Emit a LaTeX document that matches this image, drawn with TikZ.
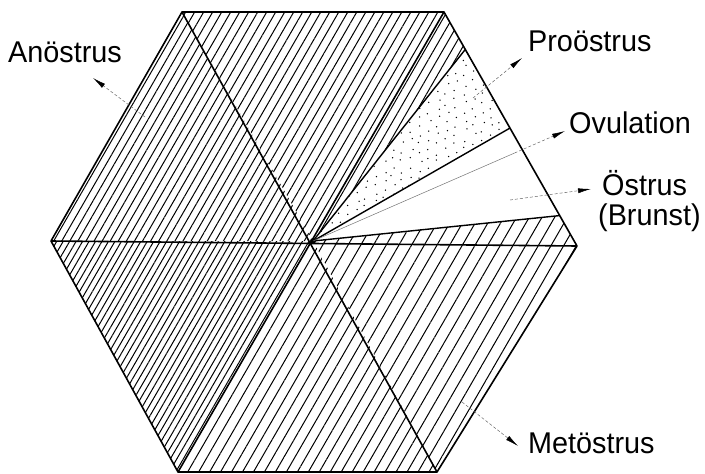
\documentclass[tikz,border=0pt]{standalone}
\usepackage{fontspec}
\setmainfont{Liberation Sans}
\usetikzlibrary{patterns.meta,arrows.meta,calc}
\begin{document}
\begin{tikzpicture}[x=1pt,y=-1pt,
  edge/.style={line width=1.6pt,line join=round},
  hatch/.style={pattern={Lines[angle=60,distance=#1,line width=1pt]}},
  lbl/.style={font=\fontsize{30}{34}\selectfont,xscale=0.96,anchor=base west,inner sep=0pt},
  ptr/.style={black!60,line width=0.5pt,dash pattern=on 3pt off 2pt,-{Latex[black,length=13pt,width=5pt]}},
  thinray/.style={black!55,line width=0.5pt},
]
\useasboundingbox (0,0) rectangle (705,474);
% hexagon
\coordinate (C) at (313,241);
\coordinate (L) at (51,241);
\coordinate (TL) at (182,12);
\coordinate (TR) at (444,12);
\coordinate (R) at (577,246);
\coordinate (BR) at (437,472);
\coordinate (BL) at (178,472);
\coordinate (P1) at ($(TR)!0.16!(R)$);
\coordinate (P2) at ($(TR)!0.496!(R)$);
\coordinate (P3) at ($(TR)!0.87!(R)$);
% hatched regions
\path[hatch=7pt] (C) -- (L) -- (TL) -- cycle;
\path[hatch=7.8pt] (C) -- (TL) -- (TR) -- (P1) -- cycle;
\path[hatch=11pt] (C) -- (P3) -- (R) -- cycle;
\path[hatch=11pt] (C) -- (R) -- (BR) -- cycle;
\path[hatch=9.5pt] (C) -- (BR) -- (BL) -- cycle;
\path[hatch=5.6pt] (C) -- (BL) -- (L) -- cycle;
% dotted sector
\begin{scope}
  \clip (C) -- (P1) -- (P2) -- cycle;
  \pgfmathsetseed{11}
  \foreach \i in {0,...,23}{
    \foreach \j in {0,...,22}{
      \pgfmathsetmacro\dx{312+\i*9+2.2*rand}
      \pgfmathsetmacro\dy{45+\j*9+2.2*rand+mod(\i,2)*4.5}
      \fill (\dx,\dy) circle (0.75pt);
    }
  }
\end{scope}
% lines
\draw[edge] (L) -- (TL) -- (TR) -- (R) -- (BR) -- (BL) -- cycle;
\draw[edge] (L) -- (R);
\draw[edge] (TL) -- (BR);
\draw[edge] (TR) -- (BL);
\draw[line width=1.4pt] (C) -- (P1);
\draw[line width=1.4pt] (C) -- (P2);
\draw[line width=1.4pt] (C) -- (P3);
\fill (C) circle (3pt);
% labels
\node[lbl] (an) at (8,62) {Anöstrus};
\node[lbl] (pro) at (528,51) {Proöstrus};
\node[lbl] (ov) at (569,133) {Ovulation};
\node[lbl] (oe) at (602,195) {Östrus};
\node[lbl] (br) at (598,225) {(Brunst)};
\node[lbl] (met) at (528,453) {Metöstrus};
% pointers
\coordinate (a1) at (145,117);  \coordinate (a2) at (93,78);
\coordinate (p1) at (473,98);   \coordinate (p2) at (522,58);
\coordinate (o1) at ($(C)!0.8!(565,131)$); \coordinate (o2) at (565,131);
\coordinate (e1) at (510,200);  \coordinate (e2) at (591,189);
\coordinate (m1) at (462,402);  \coordinate (m2) at (518,446);
\draw[ptr] (a1) -- (a2);
\draw[ptr] (p1) -- (p2);
\draw[thinray] (C) -- (o1);
\draw[ptr] (o1) -- (o2);
\draw[ptr] (e1) -- (e2);
\draw[ptr] (m1) -- (m2);
\end{tikzpicture}
\end{document}
